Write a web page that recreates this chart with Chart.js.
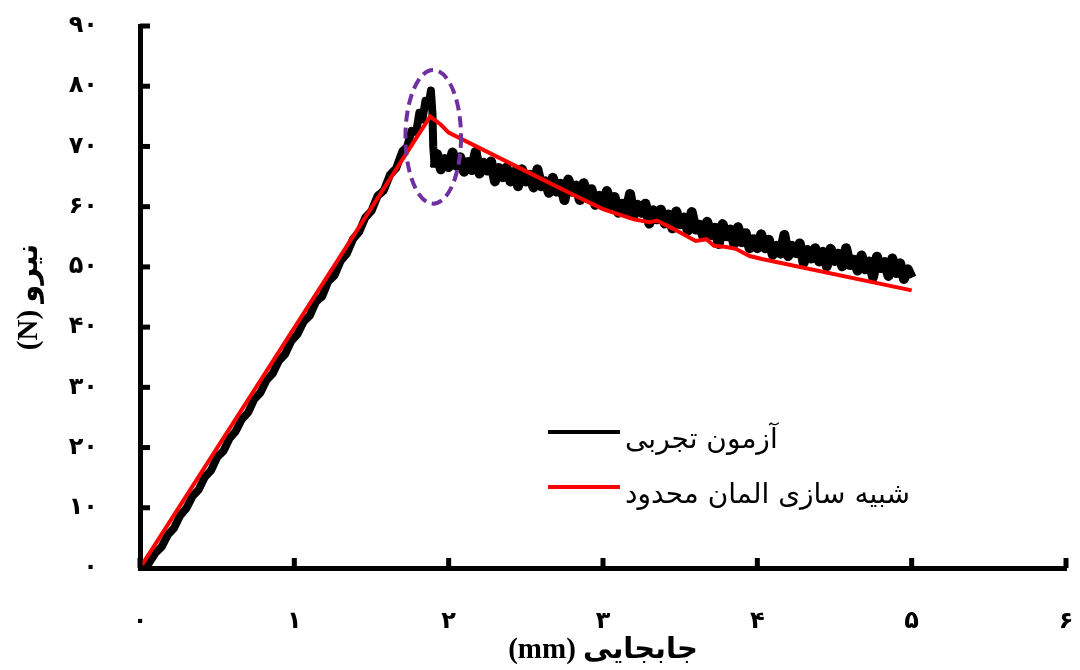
<!DOCTYPE html>
<html lang="fa">
<head>
<meta charset="utf-8">
<title>نیرو - جابجایی</title>
<style>
  html, body { margin: 0; padding: 0; background: #fff; }
  canvas { display: block; }
</style>
</head>
<body>
<canvas id="forceChart" width="1080" height="670" dir="rtl"></canvas>
<script src="https://cdn.jsdelivr.net/npm/chart.js@4.4.1/dist/chart.umd.min.js"></script>
<script>
// experimental curve (displacement mm, force N)
const expDisp = [
  0.03, 0.06, 0.10, 0.14, 0.18, 0.22, 0.26, 0.30, 0.34, 0.38,
  0.42, 0.46, 0.50, 0.54, 0.58, 0.62, 0.66, 0.70, 0.74, 0.78,
  0.82, 0.86, 0.90, 0.94, 0.98, 1.02, 1.06, 1.10, 1.14, 1.18,
  1.22, 1.26, 1.30, 1.34, 1.38, 1.42, 1.46, 1.50, 1.54, 1.58,
  1.62, 1.66, 1.70, 1.73, 1.76, 1.79, 1.81, 1.83, 1.85, 1.87,
  1.885, 1.895, 1.90, 1.91,
  1.925, 1.95, 1.975, 2.0, 2.025, 2.05, 2.075, 2.1, 2.125, 2.15,
  2.175, 2.2, 2.225, 2.25, 2.275, 2.3, 2.325, 2.35, 2.375, 2.4,
  2.425, 2.45, 2.475, 2.5, 2.525, 2.55, 2.575, 2.6, 2.625, 2.65,
  2.675, 2.7, 2.725, 2.75, 2.775, 2.8, 2.825, 2.85, 2.875, 2.9,
  2.925, 2.95, 2.975, 3.0, 3.025, 3.05, 3.075, 3.1, 3.125, 3.15,
  3.175, 3.2, 3.225, 3.25, 3.275, 3.3, 3.325, 3.35, 3.375, 3.4,
  3.425, 3.45, 3.475, 3.5, 3.525, 3.55, 3.575, 3.6, 3.625, 3.65,
  3.675, 3.7, 3.725, 3.75, 3.775, 3.8, 3.825, 3.85, 3.875, 3.9,
  3.925, 3.95, 3.975, 4.0, 4.025, 4.05, 4.075, 4.1, 4.125, 4.15,
  4.175, 4.2, 4.225, 4.25, 4.275, 4.3, 4.325, 4.35, 4.375, 4.4,
  4.425, 4.45, 4.475, 4.5, 4.525, 4.55, 4.575, 4.6, 4.625, 4.65,
  4.675, 4.7, 4.725, 4.75, 4.775, 4.8, 4.825, 4.85, 4.875, 4.9,
  4.925, 4.95, 4.975, 5.0
];
const expForce = [
  0.2, 0.9, 2.5, 3.5, 5.5, 6.6, 8.7, 9.9, 11.9, 13.0,
  15.1, 16.2, 18.4, 19.4, 21.5, 22.7, 24.7, 25.8, 28.0, 29.1,
  31.2, 32.3, 34.4, 35.5, 37.7, 38.8, 40.9, 41.9, 44.2, 45.1,
  47.6, 48.6, 51.0, 52.2, 54.6, 55.8, 58.2, 59.3, 61.8, 62.7,
  65.3, 66.4, 69.2, 69.9, 72.6, 72.4, 75.6, 74.5, 77.6, 76.8,
  79.3, 75.5, 70.0, 66.5,
  68.7, 66.2, 67.9, 66.6, 69.0, 66.8, 68.2, 65.8, 67.4, 66.1,
  69.1, 65.5, 67.3, 66.0, 67.5, 64.2, 66.4, 64.9, 66.5, 64.2,
  65.8, 63.4, 66.2, 64.2, 65.3, 63.2, 66.2, 63.4, 64.2, 62.3,
  64.8, 62.5, 63.8, 61.1, 64.5, 62.5, 63.5, 61.1, 63.9, 61.4,
  62.9, 60.3, 61.8, 60.3, 62.6, 60.2, 61.6, 59.0, 60.5, 59.1,
  62.1, 58.6, 60.3, 59.0, 60.5, 57.2, 59.4, 57.9, 59.5, 57.2,
  58.7, 56.4, 59.2, 57.1, 58.2, 56.0, 59.1, 56.2, 57.0, 55.1,
  57.5, 55.3, 56.5, 53.8, 57.1, 55.1, 56.2, 53.8, 56.6, 54.1,
  55.6, 53.1, 54.6, 53.1, 55.4, 53.1, 54.5, 52.0, 53.5, 52.2,
  55.3, 51.8, 53.5, 52.3, 53.9, 50.7, 52.8, 51.4, 53.1, 50.9,
  52.5, 50.1, 53.0, 51.0, 52.2, 50.1, 53.1, 50.3, 51.2, 49.4,
  51.9, 49.6, 50.9, 48.3, 51.7, 49.8, 50.8, 48.5, 51.4, 49.0,
  50.6, 48.0, 49.6, 48.2
];

// finite element curve
const femDisp = [0, 1.88, 1.95, 2.0, 2.5, 2.83, 3.0, 3.2, 3.3, 3.35, 3.45, 3.6, 3.67, 3.72, 3.8, 3.86, 3.95, 4.03, 5.0];
const femForce = [0, 75.0, 73.6, 72.3, 65.9, 61.7, 59.6, 57.9, 57.4, 57.7, 56.4, 54.3, 54.6, 53.5, 53.3, 53.0, 51.8, 51.3, 46.1];

const seriesNames = ['آزمون تجربی', 'شبیه سازی المان محدود'];
const xTickLabels = ['۰', '۱', '۲', '۳', '۴', '۵', '۶'];
const yTickLabels = ['۰', '۱۰', '۲۰', '۳۰', '۴۰', '۵۰', '۶۰', '۷۰', '۸۰', '۹۰'];
const xTitle = 'جابجایی (mm)';
const yTitle = 'نیرو (N)';

// dashed ring around the peak/drop (data units)
const peakZone = { x: 1.90, y: 71.6, rx: 0.18, ry: 11.1 };

const toPoints = (xs, ys) => xs.map((x, i) => ({ x: x, y: ys[i] }));

// fixed axis box sizes, no extra label overflow padding
const fixBox = (w, h) => s => {
  if (w) s.width = w;
  if (h) s.height = h;
  s.paddingTop = s.paddingBottom = s.paddingLeft = s.paddingRight = 0;
};

// short tick marks pointing into the plot
const innerTicks = {
  id: 'innerTicks',
  afterDraw(chart) {
    const { ctx, scales: { x, y } } = chart;
    ctx.save();
    ctx.strokeStyle = '#000';
    ctx.lineWidth = 5;
    x.ticks.forEach(t => {
      const px = x.getPixelForValue(t.value);
      ctx.beginPath();
      ctx.moveTo(px, x.top);
      ctx.lineTo(px, x.top - 10);
      ctx.stroke();
    });
    y.ticks.forEach(t => {
      const py = y.getPixelForValue(t.value);
      ctx.beginPath();
      ctx.moveTo(y.right, py);
      ctx.lineTo(y.right + 10, py);
      ctx.stroke();
    });
    ctx.restore();
  }
};

const peakRing = {
  id: 'peakRing',
  afterDatasetsDraw(chart) {
    const { ctx, scales: { x, y } } = chart;
    const cx = x.getPixelForValue(peakZone.x);
    const cy = y.getPixelForValue(peakZone.y);
    const rx = x.getPixelForValue(peakZone.x + peakZone.rx) - cx;
    const ry = cy - y.getPixelForValue(peakZone.y + peakZone.ry);
    ctx.save();
    ctx.strokeStyle = '#7030A0';
    ctx.lineWidth = 4;
    ctx.setLineDash([11, 6]);
    ctx.beginPath();
    ctx.ellipse(cx, cy, rx, ry, 0, 0, Math.PI * 2);
    ctx.stroke();
    ctx.restore();
  }
};

// legend inside the plot, line sample on the left of each label
const lineLegend = {
  id: 'lineLegend',
  afterDraw(chart) {
    const { ctx, chartArea: a } = chart;
    const x0 = a.left + 408;
    const rows = [a.top + 406, a.top + 461];
    ctx.save();
    ctx.font = "28px 'DejaVu Sans'";
    ctx.textAlign = 'left';
    ctx.textBaseline = 'middle';
    ctx.fillStyle = '#000';
    chart.data.datasets.forEach((ds, i) => {
      const yy = rows[i];
      ctx.strokeStyle = ds.borderColor;
      ctx.lineWidth = 4;
      ctx.beginPath();
      ctx.moveTo(x0, yy);
      ctx.lineTo(x0 + 72, yy);
      ctx.stroke();
      ctx.fillText(ds.label, x0 + 77, yy + 9);
    });
    ctx.restore();
  }
};

Chart.defaults.font.family = "'Liberation Serif', 'DejaVu Sans', serif";
Chart.defaults.color = '#000';

new Chart(document.getElementById('forceChart'), {
  type: 'line',
  data: {
    datasets: [{
      label: seriesNames[0],
      data: toPoints(expDisp, expForce),
      borderColor: '#000',
      borderWidth: 8,
      borderJoinStyle: 'round',
      // noisy softening branch reads as a wider band
      segment: { borderWidth: c => (c.p0.parsed.x > 1.9 ? 10 : 8) },
      pointRadius: 0,
      tension: 0,
      order: 2
    }, {
      label: seriesNames[1],
      data: toPoints(femDisp, femForce),
      borderColor: '#ff0000',
      borderWidth: 4,
      pointRadius: 0,
      tension: 0,
      order: 1
    }]
  },
  options: {
    responsive: false,
    devicePixelRatio: 1,
    animation: false,
    events: [],
    layout: { padding: { top: 26, right: 14, left: 0, bottom: 0 } },
    plugins: {
      legend: { display: false },
      tooltip: { enabled: false }
    },
    scales: {
      x: {
        type: 'linear',
        min: 0,
        max: 6,
        afterFit: fixBox(0, 102),
        grid: { drawOnChartArea: false, drawTicks: false },
        border: { display: true, color: '#000', width: 5 },
        ticks: {
          stepSize: 1,
          autoSkip: false,
          maxRotation: 0,
          padding: 39,
          font: { size: 24, weight: 'bold' },
          callback: (v, i) => xTickLabels[i]
        },
        title: {
          display: true,
          text: xTitle,
          font: { size: 29, weight: 'bold' },
          padding: { top: 0, bottom: 2 }
        }
      },
      y: {
        type: 'linear',
        min: 0,
        max: 90,
        afterFit: fixBox(140, 0),
        grid: { drawOnChartArea: false, drawTicks: false },
        border: { display: true, color: '#000', width: 5 },
        ticks: {
          stepSize: 10,
          autoSkip: false,
          padding: 42,
          font: { size: 24, weight: 'bold' },
          callback: (v, i) => yTickLabels[i]
        },
        title: {
          display: true,
          text: yTitle,
          font: { size: 29, weight: 'bold' },
          padding: { top: 12, bottom: 0 }
        }
      }
    }
  },
  plugins: [innerTicks, peakRing, lineLegend]
});
</script>
</body>
</html>
